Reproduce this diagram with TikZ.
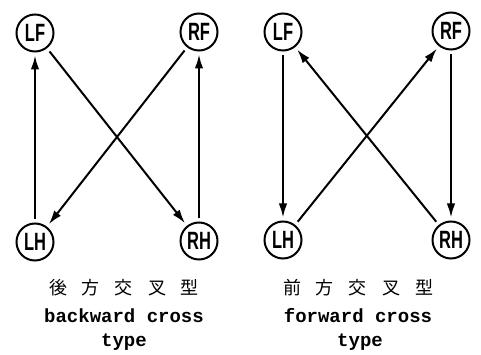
\documentclass[tikz,border=0pt]{standalone}
\usepackage{fontspec}
\setmainfont{Liberation Serif}
\newfontfamily\labelfont{Liberation Sans}
\newfontfamily\captfont{Liberation Mono}
\newfontfamily\cjkfont{Noto Sans CJK JP}
\usetikzlibrary{arrows.meta}
\newcommand{\legname}[1]{\scalebox{0.66}[1]{\labelfont\bfseries\fontsize{25}{25}\selectfont #1}}
\newcommand{\cjkspaced}[5]{{\cjkfont\fontsize{18}{18}\selectfont #1\hspace{15pt}#2\hspace{15pt}#3\hspace{15pt}#4\hspace{15pt}#5}}
\tikzset{
  leg/.style={circle, draw, line width=2pt, minimum size=37pt, inner sep=0pt},
  move/.style={line width=2pt, -{Latex[length=14pt,width=8.5pt]}, shorten <=4pt, shorten >=3pt},
  capt/.style={font=\captfont\bfseries\fontsize{19}{19}\selectfont, inner sep=0pt},
}
\begin{document}
\begin{tikzpicture}[x=1pt, y=-1pt]
  \useasboundingbox (0,0) rectangle (481,355);

  % backward cross type
  \node[leg] (bLF) at (35,33)  {\legname{LF}};
  \node[leg] (bRF) at (199,32) {\legname{RF}};
  \node[leg] (bLH) at (35,242) {\legname{LH}};
  \node[leg] (bRH) at (199,241) {\legname{RH}};
  \draw[move] (bLH.north) -- (bLF.south);
  \draw[move] (bRH.north) -- (bRF.south);
  \draw[move] (bLF) -- (bRH);
  \draw[move] (bRF) -- (bLH);
  \node[inner sep=0pt] (bcjk) at (124,288) {\cjkspaced{後}{方}{交}{叉}{型}};
  \node[capt] (ben) at (124,316) {backward cross};
  \node[capt] (bty) at (124,342) {type};

  % forward cross type
  \node[leg] (fLF) at (283,32)  {\legname{LF}};
  \node[leg] (fRF) at (451,31)  {\legname{RF}};
  \node[leg] (fLH) at (283,240) {\legname{LH}};
  \node[leg] (fRH) at (451,240) {\legname{RH}};
  \draw[move] (fLF.south) -- (fLH.north);
  \draw[move] (fRF.south) -- (fRH.north);
  \draw[move] (fLH) -- (fRF);
  \draw[move] (fRH) -- (fLF);
  \node[inner sep=0pt] (fcjk) at (358,288) {\cjkspaced{前}{方}{交}{叉}{型}};
  \node[capt] (fen) at (358,316) {forward cross};
  \node[capt] (fty) at (360,342) {type};
\end{tikzpicture}
\end{document}
